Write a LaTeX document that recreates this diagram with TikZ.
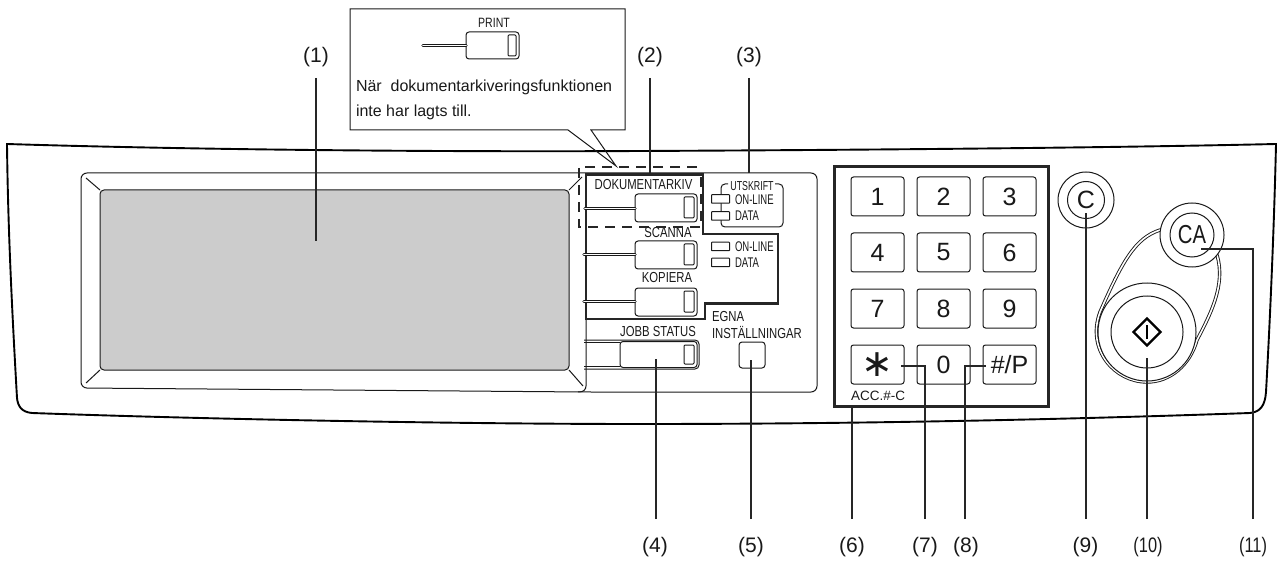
\documentclass[tikz,border=0pt]{standalone}
\usepackage{fontspec}
\setmainfont{Liberation Sans}
\newfontfamily\narrowfont[FakeStretch=0.78]{Liberation Sans}
\newfontfamily\slimfont[FakeStretch=0.68]{Liberation Sans}
\newfontfamily\symbfont{DejaVu Sans}
\usetikzlibrary{shapes.geometric, positioning}

\begin{document}
\begin{tikzpicture}[
  x=1pt, y=-1pt,
  every node/.style={inner sep=0pt, outer sep=0pt, text=black!90},
  thin line/.style={draw=black!90, line width=1pt},
  panel/.style={draw=black, line width=1.9pt},
  group/.style={draw=black!85, line width=2.8pt, line join=miter},
  lead/.style={draw=black!85, line width=1.8pt},
  btn/.style={rectangle, rounded corners=3pt, thin line, fill=white,
    minimum width=62pt, minimum height=28pt},
  lamp/.style={rectangle, rounded corners=1pt, thin line, fill=white,
    minimum width=10pt, minimum height=21pt},
  led/.style={rectangle, rounded corners=0.5pt, thin line, fill=white,
    minimum width=18pt, minimum height=8.5pt},
  stem/.style={draw=black!90, line width=0.9pt, double=white,
    double distance=1.6pt, line cap=round},
  key/.style={rectangle, rounded corners=2.5pt, thin line, fill=white,
    minimum width=53pt, minimum height=39pt, font=\fontsize{25}{25}\selectfont},
  ring/.style={circle, thin line, fill=white},
  small/.style={font=\narrowfont\fontsize{14.5}{14.5}\selectfont},
  tiny/.style={font=\slimfont\fontsize{14}{14}\selectfont},
  num/.style={font=\fontsize{21}{21}\selectfont},
  numb/.style={font=\narrowfont\fontsize{21}{21}\selectfont}
]
\useasboundingbox (0,0) rectangle (1279,561);

% outer panel
\draw[panel] (7,144) .. controls (200,150) and (450,152) .. (640,151)
  .. controls (850,150) and (1100,148) .. (1276,144)
  .. controls (1274,230) and (1270,320) .. (1266,392)
  .. controls (1265,406) and (1260,412) .. (1250,413)
  .. controls (1050,420) and (850,424) .. (640,424)
  .. controls (450,424) and (200,419) .. (32,413)
  .. controls (22,412) and (18,407) .. (17,398)
  .. controls (12,310) and (8,230) .. cycle;

% screen and bezel
\draw[thin line, rounded corners=6pt] (81,173) -- (817,173) -- (817,392) -- (586,392)
  -- (81,388) -- cycle;
\draw[thin line, rounded corners=6pt] (586,319) -- (586,392) -- (578,391.8);
\node[rectangle, rounded corners=4pt, thin line, fill=black!20, minimum width=469pt,
  minimum height=180pt] (screen) at (334.5,280) {};
\draw[thin line] (86,178) -- (screen.north west);
\draw[thin line] (86,383) -- (screen.south west);
\draw[thin line] (582,177) -- (screen.north east);
\draw[thin line] (583,386) -- (screen.south east);

% callout
\draw[thin line] (591,130) -- (625,130) -- (625,9) -- (350,9) -- (350,130) -- (568,130)
  -- (616,166) -- cycle;
\node[font=\narrowfont\fontsize{13.5}{13.5}\selectfont] (printlab) at (494,23) {PRINT};
\node[btn, minimum width=53pt, minimum height=27pt] (printbtn) at (492.5,45.5) {};
\node[lamp, minimum width=8pt] (printlamp) at (512,45.5) {};
\coordinate (printend) at (423,45.5);
\draw[stem] (printend) -- (printend -| printbtn.west);
\node[anchor=west, font=\fontsize{16}{16}\selectfont] (note1) at (356,87)
  {När\ \ dokumentarkiveringsfunktionen};
\node[anchor=west, font=\fontsize{16}{16}\selectfont] (note2) at (356,112)
  {inte har lagts till.};

% mode keys
\draw[group] (586,174.5) -- (703,174.5) -- (703,234) -- (778,234) -- (778,303.5)
  -- (705,303.5) -- (705,319) -- (586,319) -- cycle;
\node[small] (doclab) at (643.5,185) {DOKUMENTARKIV};
\node[btn] (docbtn) at (666,208) {};
\node[lamp] (doclamp) at (689,207.5) {};
\node[small] (scanlab) at (668,233) {SCANNA};
\node[btn] (scanbtn) at (666,255) {};
\node[lamp] (scanlamp) at (689,254.5) {};
\node[small] (coplab) at (667,278) {KOPIERA};
\node[btn] (copbtn) at (666,302) {};
\node[lamp] (coplamp) at (689,301.5) {};
\coordinate (docend) at (585,208.5);
\coordinate (scanend) at (584,254.5);
\coordinate (copend) at (584,301.5);
\draw[stem] (docend) -- (docend -| docbtn.west);
\draw[stem] (scanend) -- (scanend -| scanbtn.west);
\draw[stem] (copend) -- (copend -| copbtn.west);
\draw[black!85, line width=1.5pt, dash pattern=on 10pt off 7pt]
  (697,167) -- (579,167) -- (579,227) -- (701,227) -- (701,170);

% job status key
\node[small] (joblab) at (658,332) {JOBB STATUS};
\draw[thin line, rounded corners=4pt] (584,340) -- (699,340) -- (699,369) -- (584,369);
\node[btn, minimum width=77pt, minimum height=26pt] (jobbtn) at (658.5,354.5) {};
\node[lamp, minimum height=19pt] (joblamp) at (689,354.5) {};
\coordinate (jobup) at (584,342.5);
\coordinate (joblow) at (584,366.5);
\draw[thin line] (jobup) -- (jobup -| jobbtn.west);
\draw[thin line] (joblow) -- (joblow -| jobbtn.west);

% custom settings key
\node[small, anchor=west] (ownlab1) at (712,317) {EGNA};
\node[small, anchor=west] (ownlab2) at (712,333) {INSTÄLLNINGAR};
\node[rectangle, rounded corners=3pt, thin line, minimum size=26pt] (ownbtn) at (752,355) {};

% print lamps
\draw[thin line, rounded corners=4pt] (728,184) -- (721,184) -- (721,227) -- (783,227)
  -- (783,184) -- (775,184);
\node[tiny, font=\slimfont\fontsize{13}{13}\selectfont] (utlab) at (752,186) {UTSKRIFT};
\node[led] (utled1) at (720.5,199) {};
\node[led] (utled2) at (720.5,216) {};
\node[tiny, anchor=west] (uton) at (735,200) {ON-LINE};
\node[tiny, anchor=west] (utdata) at (735,216) {DATA};
\node[led] (coled1) at (720.5,246.5) {};
\node[led] (coled2) at (720.5,262.5) {};
\node[tiny, anchor=west] (coon) at (735,247) {ON-LINE};
\node[tiny, anchor=west] (codata) at (735,263) {DATA};

% numeric keypad
\node[rectangle, draw=black!85, line width=2.4pt, minimum width=214pt, minimum height=240pt]
  (keypad) at (941.5,286.5) {};
\node[key] (k1) at (877.5,196.5) {1};
\node[key, right=13pt of k1] (k2) {2};
\node[key, right=13pt of k2] (k3) {3};
\node[key, below=17pt of k1] (k4) {4};
\node[key, right=13pt of k4] (k5) {5};
\node[key, right=13pt of k5] (k6) {6};
\node[key, below=17pt of k4] (k7) {7};
\node[key, right=13pt of k7] (k8) {8};
\node[key, right=13pt of k8] (k9) {9};
\node[key, below=17pt of k7] (kstar) {\symbfont\fontsize{38}{38}\selectfont ∗};
\node[key, right=13pt of kstar] (k0) {0};
\node[key, right=13pt of k0] (khash) {\#/P};
\node[font=\fontsize{13.5}{13.5}\selectfont] (acclab) at (878,396) {ACC.\#-C};

% clear keys and start key
\draw[stem] (1160,230) .. controls (1135,238) and (1122,262) .. (1100,312)
  .. controls (1086,350) and (1115,382) .. (1147,382)
  .. controls (1170,382) and (1190,365) .. (1197,340)
  .. controls (1210,315) and (1226,285) .. (1217,255);
\node[ring, minimum size=56pt] (cout) at (1086,200) {};
\node[ring, minimum size=37pt, font=\fontsize{25}{25}\selectfont] (cbtn) at (cout) {C};
\node[ring, minimum size=64pt] (caout) at (1192,235) {};
\node[ring, minimum size=44pt, font=\narrowfont\fontsize{26}{26}\selectfont] (cabtn) at (caout) {CA};
\node[ring, minimum size=98pt] (startout) at (1147,332) {};
\node[ring, minimum size=72pt] (startbtn) at (startout) {};
\node[diamond, draw=black, line width=2.2pt, minimum size=27pt] (startsym) at (startout) {};
\draw[line width=2.4pt] ([yshift=-7pt]startsym.center) -- ([yshift=7pt]startsym.center);

% labels and leaders
\node[num] (lab1) at (316,57) {(1)};
\node[num] (lab2) at (650,57) {(2)};
\node[num] (lab3) at (749,57) {(3)};
\node[num] (lab4) at (655,547) {(4)};
\node[num] (lab5) at (751,547) {(5)};
\node[num] (lab6) at (852,547) {(6)};
\node[num] (lab7) at (925,547) {(7)};
\node[num] (lab8) at (966,547) {(8)};
\node[num] (lab9) at (1085.5,547) {(9)};
\node[numb] (lab10) at (1148,547) {(10)};
\node[numb] (lab11) at (1253,547) {(11)};
\coordinate (top1) at (316,78);
\coordinate (top2) at (650,78);
\coordinate (top3) at (749,78);
\coordinate (tip1) at (316,241);
\coordinate (tip2) at (650,175);
\coordinate (tip3) at (749,173);
\draw[lead] (top1) -- (tip1);
\draw[lead] (top2) -- (tip2);
\draw[lead] (top3) -- (tip3);
\coordinate (end4) at (656,519);
\coordinate (end5) at (751,519);
\coordinate (end6) at (852,519);
\coordinate (end7) at (925,519);
\coordinate (end8) at (965,519);
\coordinate (end9) at (1086,519);
\coordinate (end10) at (1147,519);
\coordinate (end11) at (1253,519);
\draw[lead] (end4) -- (656,359);
\draw[lead] (end5) -- (751,360);
\draw[lead] (end6) -- (keypad.south -| end6);
\draw[lead] (end7) -- (925,366) -- (901,366);
\draw[lead] (end8) -- (965,366) -- (986,366);
\draw[lead] (end9) -- (1086,213);
\draw[lead] (end10) -- (1147,358);
\draw[lead] (end11) -- (1253,249) -- (1201,249);
\end{tikzpicture}
\end{document}
